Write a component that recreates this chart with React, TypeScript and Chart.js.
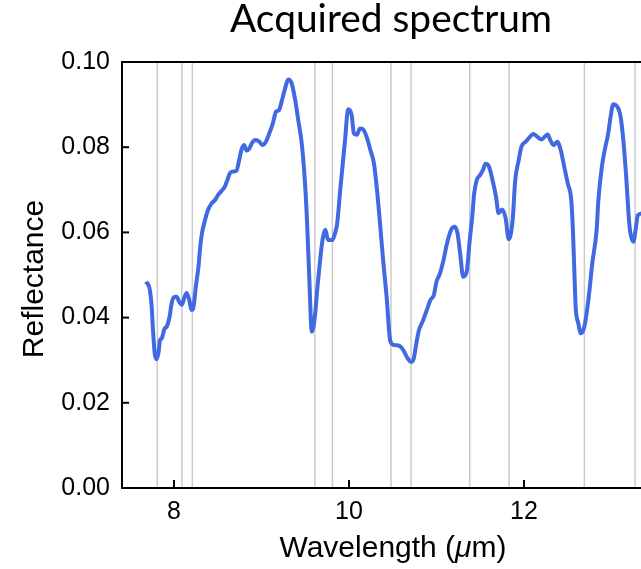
import React, { useEffect, useRef } from "react";
import { Chart, registerables } from "chart.js";

Chart.register(...registerables);

const TITLE = "Acquired spectrum";
const Y_TITLE = "Reflectance";
const X_TICKS = [8, 10, 12];
const Y_TICK_STEP = 0.02;

const wavelength = [
  7.68, 7.72, 7.745, 7.76, 7.78, 7.8, 7.825, 7.84, 7.86, 7.89, 7.92, 7.95, 7.97,
  8.0, 8.03, 8.06, 8.09, 8.115, 8.145, 8.175, 8.2, 8.22, 8.25, 8.28, 8.3, 8.32,
  8.355, 8.39, 8.43, 8.47, 8.505, 8.545, 8.58, 8.61, 8.64, 8.68, 8.715, 8.745,
  8.77, 8.8, 8.83, 8.86, 8.9, 8.935, 8.975, 9.01, 9.05, 9.09, 9.13, 9.165, 9.2,
  9.23, 9.27, 9.305, 9.345, 9.385, 9.42, 9.46, 9.495, 9.52, 9.545, 9.575, 9.61,
  9.64, 9.67, 9.7, 9.73, 9.76, 9.81, 9.84, 9.865, 9.9, 9.955, 9.99, 10.03,
  10.055, 10.09, 10.125, 10.16, 10.2, 10.245, 10.285, 10.32, 10.355, 10.39,
  10.43, 10.47, 10.51, 10.58, 10.62, 10.66, 10.71, 10.74, 10.77, 10.8, 10.84,
  10.89, 10.93, 10.97, 11.0, 11.04, 11.08, 11.12, 11.17, 11.21, 11.24, 11.27,
  11.305, 11.345, 11.38, 11.41, 11.43, 11.46, 11.5, 11.53, 11.56, 11.6, 11.64,
  11.68, 11.71, 11.75, 11.79, 11.825, 11.87, 11.9, 11.94, 11.97, 12.02, 12.07,
  12.105, 12.15, 12.2, 12.24, 12.27, 12.3, 12.34, 12.38, 12.42, 12.46, 12.5,
  12.54, 12.56, 12.575, 12.59, 12.62, 12.65, 12.69, 12.74, 12.78, 12.83, 12.85,
  12.89, 12.93, 12.96, 12.99, 13.02, 13.06, 13.1, 13.135, 13.165, 13.2, 13.215,
  13.25, 13.28, 13.3, 13.35,
];

const reflectance = [
  0.0484, 0.0469, 0.0426, 0.0371, 0.0316, 0.0302, 0.032, 0.0347, 0.0351, 0.0373,
  0.038, 0.0402, 0.043, 0.0448, 0.0449, 0.0437, 0.043, 0.0445, 0.0458, 0.0441,
  0.0418, 0.0422, 0.0473, 0.052, 0.0566, 0.0598, 0.0629, 0.0653, 0.0668, 0.0676,
  0.0688, 0.0698, 0.0707, 0.0723, 0.0739, 0.0743, 0.0745, 0.077, 0.0793, 0.0805,
  0.0792, 0.0797, 0.0813, 0.0817, 0.0813, 0.0805, 0.0813, 0.0833, 0.0856,
  0.0883, 0.0887, 0.0907, 0.0938, 0.0959, 0.095, 0.0911, 0.0864, 0.0809, 0.0723,
  0.0629, 0.05, 0.0367, 0.0402, 0.0473, 0.0535, 0.0586, 0.0606, 0.0582, 0.0582,
  0.0598, 0.0621, 0.07, 0.0817, 0.0889, 0.0876, 0.0833, 0.0829, 0.0844, 0.0842,
  0.0825, 0.0793, 0.0762, 0.07, 0.062, 0.0535, 0.0449, 0.0347, 0.0336, 0.0333,
  0.0324, 0.0308, 0.0296, 0.0304, 0.034, 0.0371, 0.039, 0.0418, 0.0441, 0.0453,
  0.0484, 0.0504, 0.0535, 0.0574, 0.0607, 0.0613, 0.0598, 0.0551, 0.0496,
  0.0508, 0.0582, 0.064, 0.069, 0.0723, 0.0735, 0.0746, 0.0761, 0.0754, 0.0723,
  0.0684, 0.0645, 0.0654, 0.0633, 0.0584, 0.0629, 0.0723, 0.077, 0.0801, 0.0813,
  0.0825, 0.0831, 0.0825, 0.0818, 0.0825, 0.083, 0.0817, 0.0805, 0.0813, 0.0793,
  0.0754, 0.0715, 0.0676, 0.06, 0.0512, 0.0426, 0.0387, 0.0363, 0.0379, 0.0449,
  0.0527, 0.0606, 0.0676, 0.0754, 0.0801, 0.0829, 0.0872, 0.0901, 0.0897,
  0.0876, 0.0817, 0.0739, 0.0629, 0.06, 0.0578, 0.0613, 0.064, 0.0645,
];

const markerLines = [7.81, 8.09, 8.21, 9.61, 9.81, 10.48, 10.71, 11.38, 11.83, 12.69, 13.27];

const X_MIN = 7.406;
const X_MAX = 13.337;
const Y_MIN = 0;
const Y_MAX = 0.1;

const SANS = "'Liberation Sans', Arial, sans-serif";

const decoPlugin = {
  id: "deco",
  beforeDatasetsDraw(chart: any) {
    const { ctx, chartArea, scales } = chart;
    ctx.save();
    ctx.strokeStyle = "#cbcbcb";
    ctx.lineWidth = 1.5;
    for (const w of markerLines) {
      const x = scales.x.getPixelForValue(w);
      ctx.beginPath();
      ctx.moveTo(x, chartArea.top);
      ctx.lineTo(x, chartArea.bottom);
      ctx.stroke();
    }
    ctx.restore();
  },
  afterDraw(chart: any) {
    const { ctx, chartArea, scales } = chart;
    const { left, top, bottom, right } = chartArea;
    ctx.save();
    ctx.strokeStyle = "#000";
    ctx.lineWidth = 2;
    ctx.beginPath();
    ctx.moveTo(right + 2, top);
    ctx.lineTo(left, top);
    ctx.lineTo(left, bottom);
    ctx.lineTo(right + 2, bottom);
    ctx.stroke();
    for (const t of scales.y.ticks) {
      const y = scales.y.getPixelForValue(t.value);
      ctx.beginPath();
      ctx.moveTo(left, y);
      ctx.lineTo(left + 7, y);
      ctx.stroke();
    }
    for (const t of scales.x.ticks) {
      const x = scales.x.getPixelForValue(t.value);
      ctx.beginPath();
      ctx.moveTo(x, bottom);
      ctx.lineTo(x, bottom - 8);
      ctx.stroke();
    }
    ctx.fillStyle = "#000";
    ctx.font = "40px Lato, 'Open Sans', sans-serif";
    const w40 = ctx.measureText(TITLE).width;
    const size = (40 * 322) / w40;
    ctx.font = `${size}px Lato, 'Open Sans', sans-serif`;
    ctx.textAlign = "center";
    ctx.textBaseline = "alphabetic";
    ctx.fillText(TITLE, 391, 32);
    ctx.save();
    ctx.translate(43, 279);
    ctx.rotate(-Math.PI / 2);
    ctx.font = `30px ${SANS}`;
    ctx.textAlign = "center";
    ctx.textBaseline = "alphabetic";
    ctx.fillText(Y_TITLE, 0, 0);
    ctx.restore();
    const parts = [
      { t: "Wavelength (", f: `30px ${SANS}` },
      { t: "\u03bc", f: `italic 30px ${SANS}` },
      { t: "m)", f: `30px ${SANS}` },
    ];
    let total = 0;
    const widths = parts.map((p) => {
      ctx.font = p.f;
      const w = ctx.measureText(p.t).width;
      total += w;
      return w;
    });
    let x = 393 - total / 2;
    ctx.textAlign = "left";
    parts.forEach((p, i) => {
      ctx.font = p.f;
      ctx.fillText(p.t, x, 557);
      x += widths[i];
    });
    ctx.restore();
  },
};

export default function App() {
  const ref = useRef<HTMLCanvasElement>(null);
  useEffect(() => {
    if (!ref.current) return;
    const points = wavelength.map((w, i) => ({ x: w, y: reflectance[i] }));
    const chart = new Chart(ref.current, {
      type: "line",
      data: {
        datasets: [
          {
            data: points,
            borderColor: "#4169e1",
            borderWidth: 4,
            pointRadius: 0,
            fill: false,
            cubicInterpolationMode: "monotone",
          },
        ],
      },
      options: {
        animation: false,
        responsive: false,
        devicePixelRatio: 1,
        layout: { padding: { top: 62, left: 0, right: 0, bottom: 0 } },
        plugins: {
          legend: { display: false },
          tooltip: { enabled: false },
          title: { display: false },
        },
        scales: {
          x: {
            type: "linear",
            min: X_MIN,
            max: X_MAX,
            afterBuildTicks: (s: any) => {
              s.ticks = X_TICKS.map((v) => ({ value: v }));
            },
            afterFit: (s: any) => {
              s.height = 81;
            },
            grid: { display: false, drawTicks: false },
            border: { display: false },
            ticks: {
              color: "#000",
              font: { family: SANS, size: 25 },
              padding: 9,
              maxRotation: 0,
              callback: (v: any) => String(v),
            },
          },
          y: {
            min: Y_MIN,
            max: Y_MAX,
            afterFit: (s: any) => {
              s.width = 122;
            },
            grid: { display: false, drawTicks: false },
            border: { display: false },
            ticks: {
              stepSize: Y_TICK_STEP,
              color: "#000",
              font: { family: SANS, size: 25 },
              padding: 12,
              callback: (v: any) => Number(v).toFixed(2),
            },
          },
        },
      },
      plugins: [decoPlugin],
    });
    return () => chart.destroy();
  }, []);
  return (
    <div style={{ position: "fixed", left: 0, top: 0, width: 641, height: 569, background: "#fff" }}>
      <canvas ref={ref} width={641} height={569} style={{ width: 641, height: 569 }} />
    </div>
  );
}
